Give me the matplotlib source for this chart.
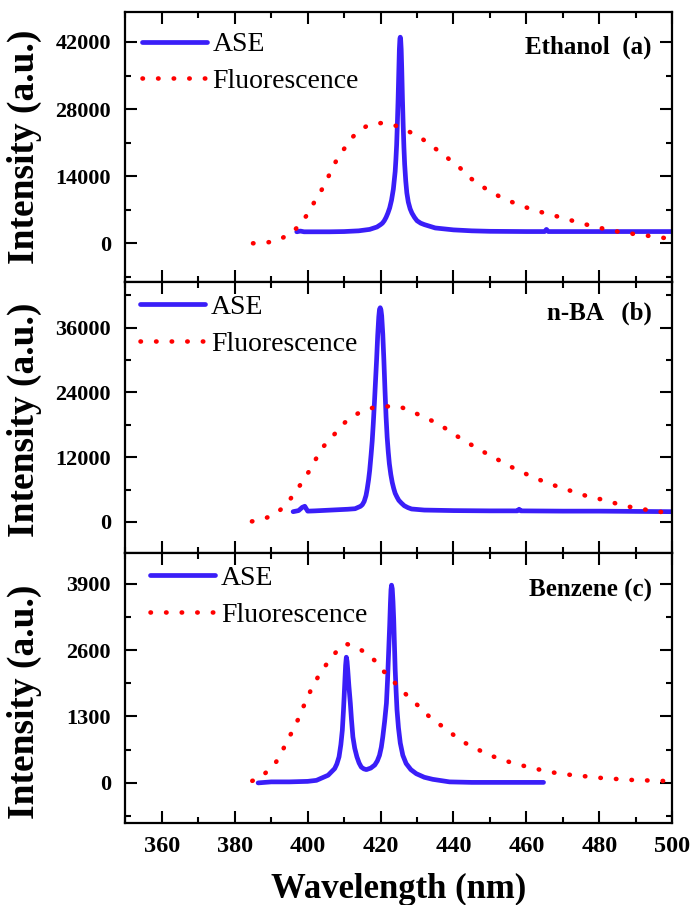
import numpy as np
import matplotlib
matplotlib.use('Agg')
import matplotlib.pyplot as plt
from matplotlib.ticker import MultipleLocator

plt.rcParams['font.family'] = ['Liberation Serif', 'DejaVu Serif']

# ---- data ----
# (a) Ethanol
ase_a_x = [397, 398, 399, 402, 406, 410, 414, 417, 419, 420, 420.5, 421, 421.5, 422, 422.5,
           423, 423.5, 424.0, 424.2, 424.4, 424.6, 424.8, 425.0, 425.15, 425.3, 425.4, 425.5,
           425.65, 425.8, 426.0, 426.2, 426.4, 426.6, 426.9, 427.2, 427.6, 428.1, 428.6, 429.3,
           430, 431, 432, 435, 440, 445, 450, 460, 465, 465.5, 466, 470, 480, 490, 500]
ase_a_y = [2400, 2550, 2400, 2400, 2400, 2450, 2600, 2900, 3400, 3900, 4200, 4700, 5400, 6300, 7400,
           9000, 11300, 15000, 17500, 20500, 25000, 30000, 36000, 40500, 42700, 43000, 42600,
           40500, 36500, 30000, 24500, 20000, 16500, 13000, 10500, 8600, 7200, 6300, 5400,
           4700, 4200, 3900, 3200, 2800, 2600, 2500, 2450, 2450, 2900, 2450, 2450, 2450, 2450, 2450]
fl_a_x = [385, 387, 389, 391, 393, 395, 397, 398.7, 400.4, 402.4, 403.8, 406, 408, 410.8,
          412.5, 414.5, 416.5, 418.5, 420.6, 422.5, 424.7, 426.6, 428.8, 431, 433, 437, 441.2,
          445, 449, 453, 457, 461, 465, 470, 474, 478, 482, 486, 490, 494, 498, 500]
fl_a_y = [0, 0, 200, 400, 1100, 1900, 3200, 4800, 6500, 9500, 11100, 14400, 17500, 20600,
          22300, 23700, 24600, 25000, 25100, 24900, 24400, 23800, 22900, 22000, 20950, 18600, 16150,
          13400, 11300, 9600, 8300, 7200, 6300, 5300, 4400, 3600, 2900, 2300, 1900, 1500, 1100, 950]

# (b) n-BA
ase_b_x = [396, 397.5, 398.5, 399.2, 400, 402, 405, 408, 411, 413, 414.5, 415, 415.5, 416,
           416.3, 416.7, 417, 417.4, 417.7, 418, 418.3, 418.6, 418.9, 419.2, 419.5, 419.7, 419.9,
           420.1, 420.3, 420.6, 420.9, 421.2, 421.5, 421.8, 422.1, 422.4, 422.8, 423.2, 423.6,
           424, 424.5, 425, 425.7, 426.5, 427.5, 428.5, 432, 440, 450, 457.5, 458, 458.5,
           470, 480, 490, 500]
ase_b_y = [1900, 2100, 2700, 2900, 2000, 2050, 2150, 2250, 2350, 2450, 2900, 3200, 3800, 4900,
           6000, 7800, 9500, 12500, 15000, 18300, 22000, 26000, 30000, 34500, 38000, 39400, 39700,
           39300, 38200, 34800, 30000, 24500, 19500, 15700, 13000, 10800, 8800, 7300, 6200,
           5300, 4600, 4000, 3500, 3000, 2650, 2400, 2200, 2100, 2050, 2050, 2350, 2050,
           2000, 2000, 1950, 1900]
fl_b_x = [384.7, 387, 389, 391.2, 393.1, 394.9, 396.4, 397.8, 399.2, 400.5, 401.5, 402.8, 404,
          405.6, 407.4, 409, 411, 413.2, 415.2, 417.5, 419.5, 421.6, 424.5, 426.3, 428.4, 430.4,
          431.6, 435.9, 440, 444.1, 448.2, 452.3, 456.4, 460.5, 464.7, 468.8, 472.9, 477, 481.1,
          485.2, 489.3, 493.4, 497.5, 500]
fl_b_y = [100, 370, 850, 1480, 2600, 3950, 5300, 6700, 8200, 9500, 10800, 12300, 13700,
          15000, 16300, 17700, 18900, 19900, 20600, 21100, 21300, 21400, 21500, 21100, 20500, 19900,
          19500, 18200, 16300, 14600, 13000, 11500, 10000, 8700, 7500, 6500, 5600, 4700, 4100,
          3300, 2650, 2200, 1800, 1700]

# (c) Benzene
ase_c_x = [386.4, 390, 395, 400, 402.4, 405.6, 407.4, 408, 408.6, 409.1, 409.5, 409.8, 410,
           410.2, 410.4, 410.6, 410.8, 411, 411.3, 411.7, 412, 412.4, 412.9, 413.5, 414.1, 414.7,
           415.4, 416.1, 417.3, 418.4, 419.1, 419.7, 420.2, 420.6, 421.1, 421.6, 421.9, 422.2,
           422.5, 422.7, 422.85, 423.0, 423.2, 423.4, 423.6, 423.8, 424.0, 424.25, 424.5, 424.9,
           425.4, 426.1, 427, 428.3, 429.8, 432, 434.3, 438.9, 445, 455, 464.7]
ase_c_y = [0, 20, 20, 30, 50, 150, 280, 370, 510, 750, 1030, 1400, 1690,
           2000, 2300, 2460, 2380, 2200, 1900, 1560, 1250, 900, 680, 510, 390, 310,
           275, 260, 290, 350, 430, 540, 700, 900, 1200, 1560, 2000, 2550,
           3100, 3530, 3780, 3870, 3800, 3550, 3200, 2700, 2220, 1800, 1430, 1080,
           780, 540, 380, 260, 180, 110, 70, 20, 10, 10, 10]
fl_c_x = [384.8, 387, 388.8, 391, 393.1, 394, 395.5, 396.4, 397.6, 398.3, 399.2, 400.1, 401,
          402.2, 403.3, 404.7, 406.5, 408.6, 410.6, 412.6, 414.7, 416.7, 418.8, 420.6, 422.7,
          424.5, 426.6, 428.6, 430.7, 432.7, 434.8, 436.9, 438.9, 440.9, 443, 445, 447.1, 449.1,
          451.2, 453.3, 455.3, 457.5, 459.5, 461.6, 463.6, 465.7, 467.7, 469.8, 471.8, 473.9,
          476, 478, 480, 484, 488, 492.4, 496.5, 499.3]
fl_c_y = [40, 100, 220, 370, 620, 790, 970, 1120, 1270, 1410, 1550, 1690, 1840,
          1990, 2140, 2280, 2440, 2640, 2720, 2680, 2600, 2500, 2370, 2200, 2060,
          1910, 1760, 1610, 1490, 1340, 1210, 1110, 1000, 890, 790, 710, 640, 560,
          510, 460, 410, 360, 330, 290, 260, 220, 200, 180, 160, 140,
          130, 120, 100, 80, 60, 50, 40, 35]

panels = [
    dict(ase=(ase_a_x, ase_a_y), fl=(fl_a_x, fl_a_y), ylim=(-8150, 48250), major=14000,
         tag='Ethanol  (a)', tag_y=0.87, leg=(0.030, 0.926), lab_y=0.50),
    dict(ase=(ase_b_x, ase_b_y), fl=(fl_b_x, fl_b_y), ylim=(-5700, 44400), major=12000,
         tag='n-BA   (b)', tag_y=0.885, leg=(0.027, 0.955), lab_y=0.49),
    dict(ase=(ase_c_x, ase_c_y), fl=(fl_c_x, fl_c_y), ylim=(-785, 4506), major=1300,
         tag='Benzene (c)', tag_y=0.86, leg=(0.045, 0.952), lab_y=0.45),
]

BLUE = '#3a1ef8'
RED = '#ff0000'

fig = plt.figure(figsize=(6.93, 9.05), dpi=100)
gs = fig.add_gridspec(3, 1, left=0.181, right=0.970, top=0.9867, bottom=0.0906, hspace=0)
axes = [fig.add_subplot(gs[i]) for i in range(3)]

for i, (ax, p) in enumerate(zip(axes, panels)):
    ax.plot(p['ase'][0], p['ase'][1], color=BLUE, lw=3.4, solid_joinstyle='round',
            solid_capstyle='round', label='ASE')
    # round-capped near-zero dashes give the red dotted curve
    ax.plot(p['fl'][0], p['fl'][1], color=RED, lw=3.3, linestyle=(0, (0.1, 3.3)),
            dash_capstyle='round', label='Fluorescence')
    ax.set_xlim(350, 500)
    ax.set_ylim(*p['ylim'])
    ax.xaxis.set_major_locator(MultipleLocator(20))
    ax.xaxis.set_minor_locator(MultipleLocator(10))
    ax.yaxis.set_major_locator(MultipleLocator(p['major']))
    ax.yaxis.set_minor_locator(MultipleLocator(p['major'] / 2))
    ax.tick_params(which='both', direction='in', top=True, right=True, width=1.5)
    ax.tick_params(which='major', length=8.5)
    ax.tick_params(which='minor', length=4.5)
    ax.tick_params(axis='y', labelsize=16, pad=10.5)
    ax.tick_params(axis='x', labelsize=17.5, pad=9)
    for s in ax.spines.values():
        s.set_linewidth(1.6)
    for t in ax.get_yticklabels() + ax.get_xticklabels():
        t.set_fontweight('bold')
    if i < 2:
        ax.tick_params(labelbottom=False)
    ax.set_ylabel('Intensity (a.u.)', fontsize=27, fontweight='bold')
    ax.yaxis.set_label_coords(-0.153, p['lab_y'])
    ax.text(0.963, p['tag_y'], p['tag'], transform=ax.transAxes, ha='right', va='center',
            fontsize=18, fontweight='bold')
    ax.legend(loc='upper left', bbox_to_anchor=p['leg'], frameon=False, fontsize=20,
              handlelength=2.35, handletextpad=0.2, labelspacing=0.4,
              borderpad=0, borderaxespad=0)

axes[2].set_xlabel('Wavelength (nm)', fontsize=25, fontweight='bold', labelpad=12)

fig.savefig('out.png', dpi=100)
